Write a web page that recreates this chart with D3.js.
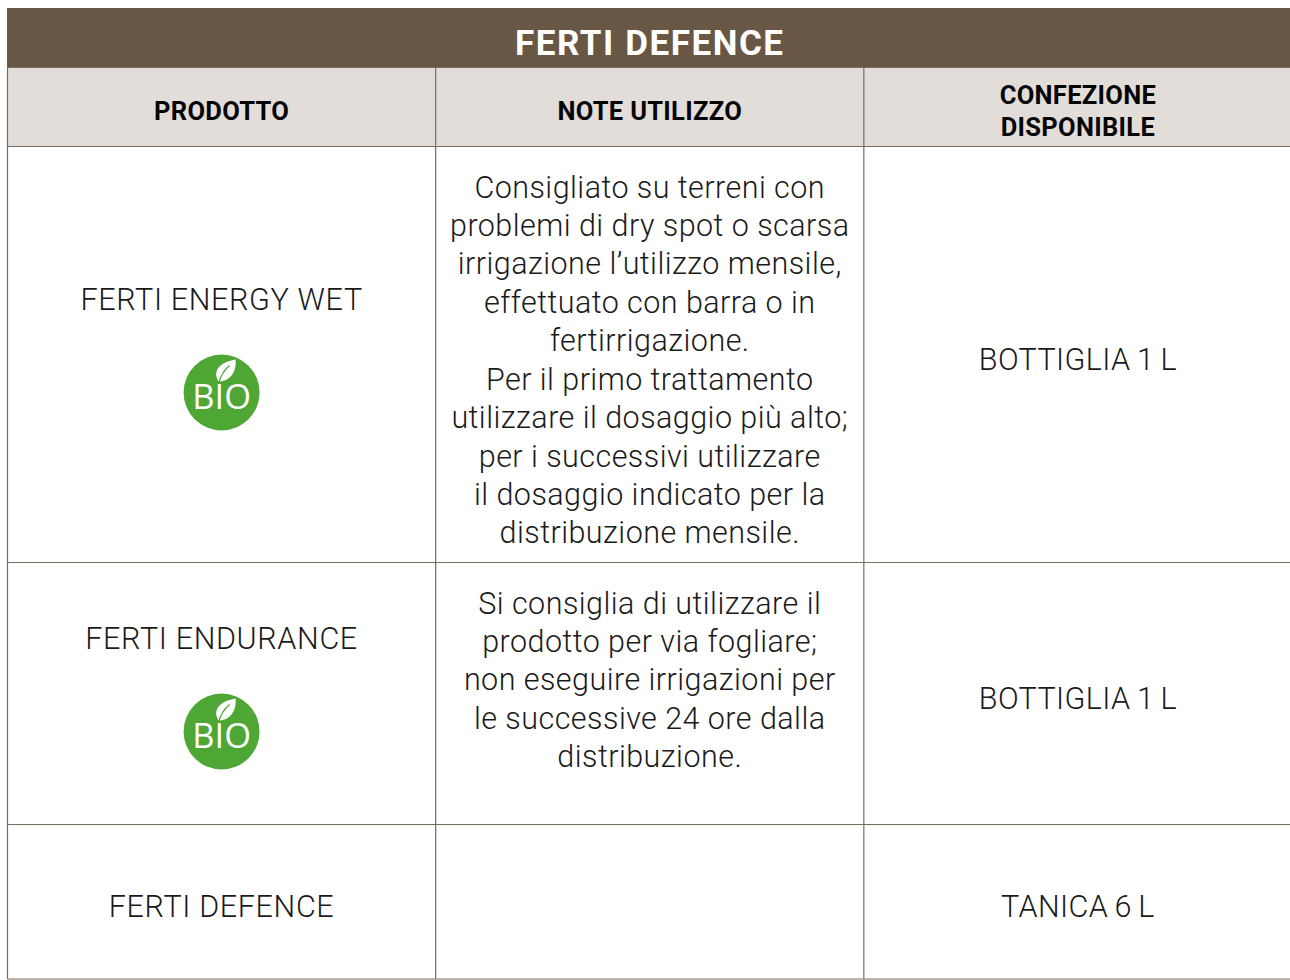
<!DOCTYPE html>
<html>
<head>
<meta charset="utf-8">
<script src="https://cdn.jsdelivr.net/npm/d3@7"></script>
<style>
  html, body { margin: 0; padding: 0; background: #fff; }
  svg { display: block; }
  text { font-family: Roboto, sans-serif; text-anchor: middle; }
</style>
</head>
<body>
<div id="table"></div>
<script>
const title = 'FERTI DEFENCE';
const columns = ['PRODOTTO', 'NOTE UTILIZZO', 'CONFEZIONE\nDISPONIBILE'];
const products = ['FERTI ENERGY WET', 'FERTI ENDURANCE', 'FERTI DEFENCE'];
const organic = [true, true, false];
const packs = ['BOTTIGLIA 1 L', 'BOTTIGLIA 1 L', 'TANICA 6 L'];
const notes = [
  ['Consigliato su terreni con', 'problemi di dry spot o scarsa', 'irrigazione l’utilizzo mensile,',
   'effettuato con barra o in', 'fertirrigazione.', 'Per il primo trattamento',
   'utilizzare il dosaggio più alto;', 'per i successivi utilizzare',
   'il dosaggio indicato per la', 'distribuzione mensile.'],
  ['Si consiglia di utilizzare il', 'prodotto per via fogliare;', 'non eseguire irrigazioni per',
   'le successive 24 ore dalla', 'distribuzione.'],
  []
];

const width = 1290, height = 980;
const left = 7.5, right = 1292;
const rowEdges = [146.5, 562.5, 824.5, 979];
const line_color = '#7a6c5c';

const svg = d3.select('#table').append('svg')
      .attr('width', width)
      .attr('height', height);

const xScale = d3.scaleBand()
      .domain(d3.range(columns.length))
      .range([left, right]);
const xMid = i => xScale(i) + xScale.bandwidth() / 2;

// Title band and header band
svg.append('rect')
  .attr('x', left - .5).attr('y', 8)
  .attr('width', width).attr('height', 59.5)
  .style('fill', '#685744');
svg.append('rect')
  .attr('x', left).attr('y', 67.5)
  .attr('width', width).attr('height', 79)
  .style('fill', '#e2ddd9');
svg.append('text')
  .attr('x', xMid(1)).attr('y', 55)
  .style('font-size', '35px')
  .style('font-weight', 700)
  .style('letter-spacing', '1.55px')
  .style('fill', '#fff')
  .text(title);

// Grid
const rules = rowEdges.concat([67.5]);
svg.append('g').selectAll('line')
  .data(rules)
  .enter().append('line')
  .attr('x1', left).attr('x2', width)
  .attr('y1', d => d).attr('y2', d => d)
  .style('stroke', line_color)
  .style('stroke-width', 1.2);
svg.append('g').selectAll('line')
  .data(d3.range(columns.length))
  .enter().append('line')
  .attr('x1', d => xScale(d)).attr('x2', d => xScale(d))
  .attr('y1', 67.5).attr('y2', 979)
  .style('stroke', line_color)
  .style('stroke-width', 1.2);

// Column headers
columns.forEach((c, i) => {
  const parts = c.split('\n');
  const y0 = 120 - (parts.length - 1) * 16;
  svg.append('g').selectAll('text')
    .data(parts)
    .enter().append('text')
    .attr('x', xMid(i))
    .attr('y', (_, j) => y0 + j * 32)
    .style('font-size', '25.5px')
    .style('font-weight', 700)
    .style('letter-spacing', '.3px')
    .style('fill', '#050505')
    .text(d => d);
});

const body_text = (sel, spacing) => sel
      .style('font-size', '30.5px')
      .style('font-weight', 300)
      .style('letter-spacing', spacing + 'px')
      .style('fill', '#1a1a1a');

// Body rows
products.forEach((p, r) => {
  const top = rowEdges[r];
  const mid = (rowEdges[r] + rowEdges[r + 1]) / 2;
  svg.append('text')
    .attr('x', xMid(0))
    .attr('y', organic[r] ? mid - 44.5 : mid + 15.5)
    .call(body_text, .65)
    .text(p);
  svg.append('text')
    .attr('x', xMid(2))
    .attr('y', mid + 15)
    .call(body_text, .4)
    .style('word-spacing', '-1.5px')
    .text(packs[r]);
  svg.append('g').selectAll('text')
    .data(notes[r])
    .enter().append('text')
    .attr('x', xMid(1))
    .attr('y', (_, j) => top + 51 + j * 38.44)
    .call(body_text, .45)
    .text(d => d);
  if (organic[r]) drawBio(xMid(0), mid + 38);
});

function drawBio(cx, cy) {
  const g = svg.append('g').attr('transform', `translate(${cx},${cy})`);
  g.append('circle').attr('r', 38).style('fill', '#4ea634');
  g.append('text')
    .attr('y', 16)
    .style('font-family', '"Open Sans", sans-serif')
    .style('font-size', '34.5px')
    .style('fill', '#fff')
    .text('BIO');
  // Leaf over the I
  g.append('path')
    .attr('d', 'M-3,-11 C-9,-20 -4,-30 14,-33 C15,-20 8,-11 -3,-11 Z')
    .style('fill', '#fff');
  g.append('path')
    .attr('d', 'M-3,-9 C-1,-17 3,-23 8,-27')
    .style('fill', 'none')
    .style('stroke', '#4ea634')
    .style('stroke-width', 1.2);
}
</script>
</body>
</html>
